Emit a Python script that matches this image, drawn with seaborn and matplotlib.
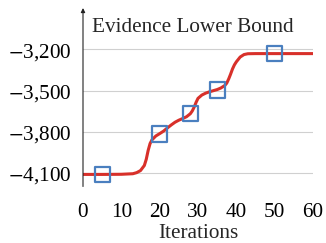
import matplotlib
matplotlib.use("Agg")
import matplotlib.pyplot as plt
import seaborn as sns
import pandas as pd

# Curve
iters = [0, 5, 10, 13, 14, 15, 16, 16.5, 17, 17.5, 18, 19, 20, 21, 22, 23, 24, 25, 26, 27, 28, 28.5, 29, 29.5, 30, 31, 32, 33, 34, 35, 36, 37, 37.5, 38, 38.5, 39, 39.5, 40, 41, 42, 43, 45, 50, 55, 60]
elbo = [-4110, -4110, -4109, -4105, -4097, -4082, -4045, -4000, -3935, -3885, -3858, -3830, -3813, -3795, -3772, -3750, -3730, -3715, -3703, -3690, -3668, -3648, -3620, -3585, -3556, -3532, -3518, -3508, -3500, -3492, -3480, -3462, -3445, -3415, -3380, -3342, -3312, -3290, -3255, -3237, -3231, -3230, -3230, -3230, -3230]

# Square markers
mark_iters = [5, 20, 28, 35, 50]
mark_elbo = [-4110, -3815, -3667, -3495, -3228]

yticks = [-4100, -3800, -3500, -3200]
xticks = [0, 10, 20, 30, 40, 50, 60]

sns.set_style("white")
plt.rcParams['font.family'] = ['Liberation Serif', 'DejaVu Serif']
plt.rcParams['mathtext.fontset'] = 'stix'

fig = plt.figure(figsize=(3.26, 2.43), dpi=100)
ax = fig.add_axes([0.2546, 0.2325, 0.7055, 0.7345])

df = pd.DataFrame({"it": iters, "v": elbo})
dm = pd.DataFrame({"it": mark_iters, "v": mark_elbo})

for t in yticks:
    ax.axhline(t, color="#d0d0d0", lw=0.8, zorder=0)

sns.lineplot(data=df, x="it", y="v", ax=ax, color="#d8302a", lw=2.2, zorder=3)
sns.scatterplot(data=dm, x="it", y="v", ax=ax, marker="s", s=120,
                facecolor="none", edgecolor="#4a7fbf", linewidth=1.6, zorder=4)

ax.set_xlim(0, 60)
ax.set_ylim(-4198, -2898)
ax.set_xticks(xticks)
ax.set_yticks(yticks)
ax.set_xticklabels([str(x) for x in xticks])
ax.set_yticklabels(["$-$" + f"{abs(y):,}" for y in yticks])
ax.tick_params(axis="both", direction="inout", length=6, width=0.6,
               colors="#555555", labelcolor="black", labelsize=15.3)
ax.tick_params(axis="x", pad=9)
ax.tick_params(axis="y", pad=5)

for s in ["top", "right", "bottom", "left"]:
    ax.spines[s].set_visible(False)
ax.annotate("", xy=(0, 1.0), xytext=(0, 0), xycoords="axes fraction",
            arrowprops=dict(arrowstyle="-|>", lw=0.8, color="#222222",
                            mutation_scale=6, shrinkA=0, shrinkB=0))

ax.set_xlabel("Iterations", fontsize=15.3, labelpad=1.5)
ax.set_ylabel("")
ax.text(0.039, 0.89, "Evidence Lower Bound", transform=ax.transAxes,
        fontsize=15.3, va="center", ha="left")

fig.savefig("out.png", dpi=100)
